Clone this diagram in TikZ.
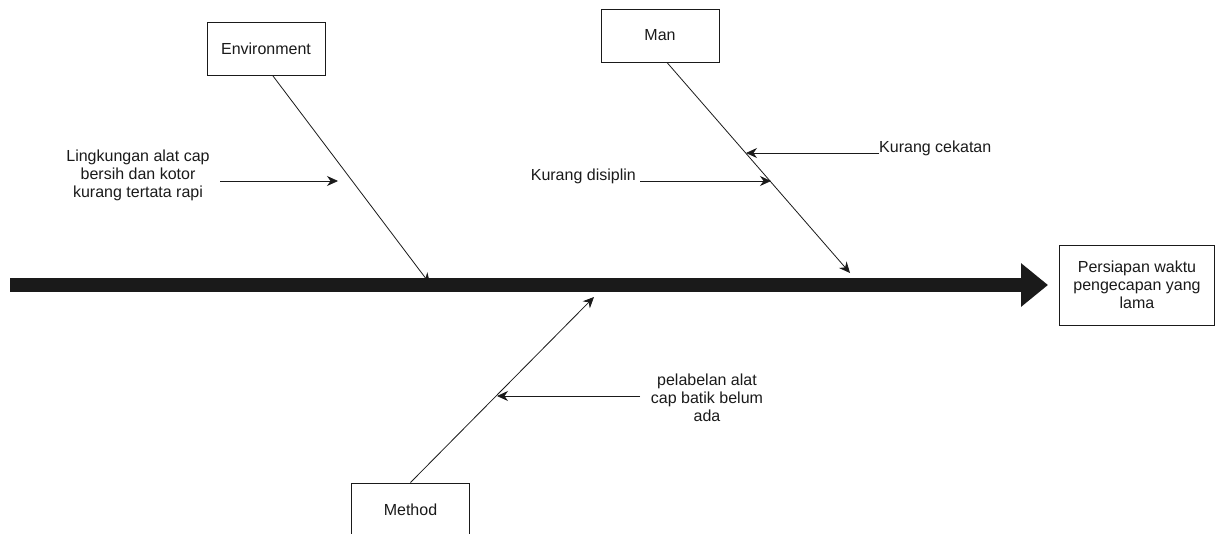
\documentclass[tikz,border=0pt]{standalone}
\usepackage{fontspec}
\setmainfont{Liberation Sans}
\usetikzlibrary{arrows.meta}
\definecolor{ink}{RGB}{26,26,26}
\begin{document}
\begin{tikzpicture}[x=1pt,y=-1pt,
  every node/.style={font=\fontsize{16}{18}\selectfont, text=ink},
  cat/.style={draw=ink, line width=1pt, fill=white, minimum width=118pt, minimum height=53pt, inner sep=0pt},
  effectbox/.style={draw=ink, line width=1pt, fill=white, minimum width=155pt, minimum height=80pt, inner sep=0pt, align=center},
  lbl/.style={align=center, inner sep=0pt},
  bone/.style={draw=ink, line width=0.8pt, -{Stealth[length=11pt,width=10pt]}},
  spine/.style={draw=ink, line width=14pt, -{Triangle[length=27pt,width=42pt]}}
]
\useasboundingbox (0,0) rectangle (1215,533);
\begin{scope}
\clip (0,0) rectangle (1215,533);
% nodes
\node[cat] (env) at (266,49) {Environment};
\node[cat] (man) at (660,35.5) {Man};
\node[cat] (method) at (410.5,509.5) {Method};
\node[effectbox] (effect) at (1137,285) {Persiapan waktu\\pengecapan yang\\lama};
% spine
\coordinate (spinestart) at (10,285);
\coordinate (spineend) at (1048,285);
\draw[spine] (spinestart) -- (spineend);
% main bones
\coordinate (envtip) at (430,284);
\coordinate (mantip) at (850,273);
\coordinate (methodtip) at (594,297);
\draw[bone] ([xshift=7pt]env.south) -- (envtip);
\draw[bone] ([xshift=7pt]man.south) -- (mantip);
\draw[bone] (method.north) -- (methodtip);
% cause labels
\node[lbl] (lingk) at (138,175) {Lingkungan alat cap\\bersih dan kotor\\kurang tertata rapi};
\coordinate (lingkstart) at (220,181);
\coordinate (lingktip) at (338,181);
\draw[bone] (lingkstart) -- (lingktip);
\node[lbl, anchor=west] (cekatan) at (879,148) {Kurang cekatan};
\coordinate (cekatantip) at (746,153);
\draw[bone] (cekatan.west |- cekatantip) -- (cekatantip);
\node[lbl, anchor=east] (disiplin) at (636,176) {Kurang disiplin};
\coordinate (disiplinstart) at (640,181);
\coordinate (disiplintip) at (771,181);
\draw[bone] (disiplinstart) -- (disiplintip);
\node[lbl] (label) at (707,398) {pelabelan alat\\cap batik belum\\ada};
\coordinate (labelstart) at (640,396);
\coordinate (labeltip) at (497,396);
\draw[bone] (labelstart) -- (labeltip);
\end{scope}
\end{tikzpicture}
\end{document}
